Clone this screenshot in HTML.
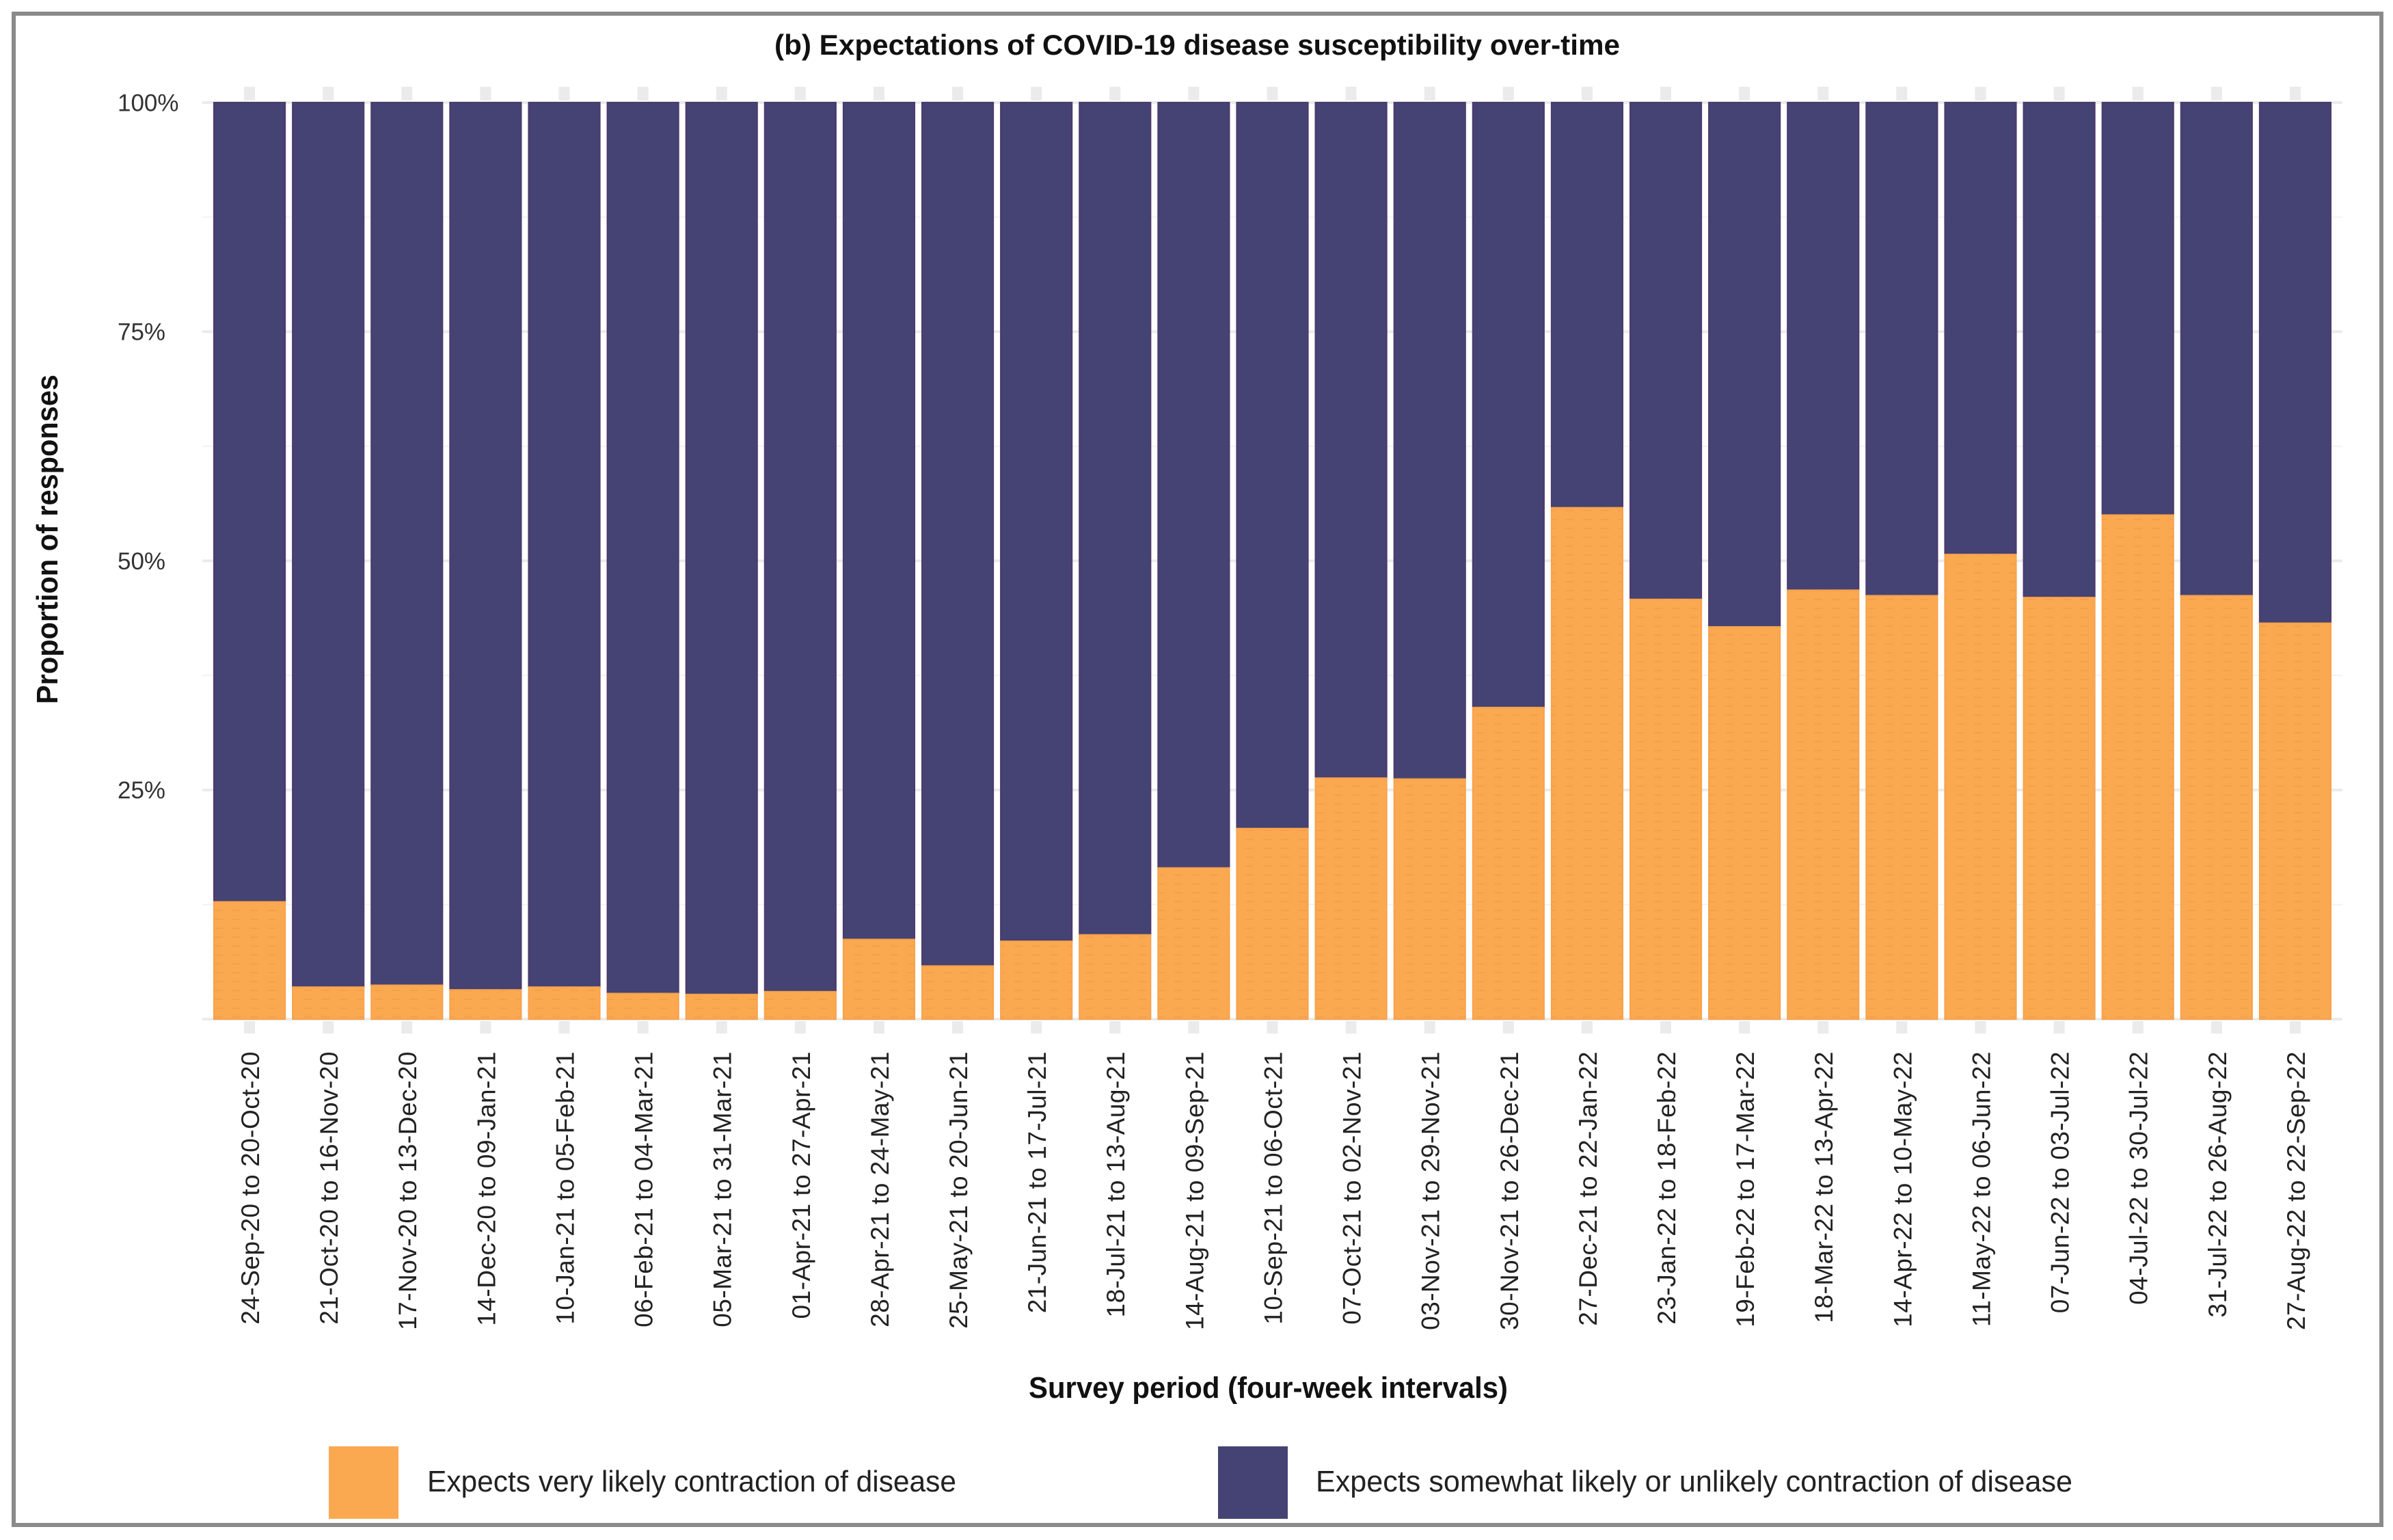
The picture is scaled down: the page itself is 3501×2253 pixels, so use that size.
<!DOCTYPE html>
<html>
<head>
<meta charset="utf-8">
<style>
  html,body{margin:0;padding:0;background:#fff;}
  svg{display:block;}
  text{font-family:"Liberation Sans Narrow","Liberation Sans",sans-serif;}
</style>
</head>
<body>
<svg id="chart" width="3501" height="2253" viewBox="0 0 3501 2253" xmlns="http://www.w3.org/2000/svg">
  <defs>
    <pattern id="tex" width="26" height="13" patternUnits="userSpaceOnUse">
      <rect width="26" height="13" fill="#fba951"/>
      <line x1="2" y1="6" x2="14" y2="6" stroke="#f2a04a" stroke-width="2"/>
    </pattern>
  </defs>
  <rect x="0" y="0" width="3501" height="2253" fill="#fff"/>
  <rect x="20" y="20" width="3464" height="2211" fill="none" stroke="#8a8a8a" stroke-width="6"/>
  <text x="1133" y="80" font-size="42" font-weight="bold" fill="#111" textLength="1237" lengthAdjust="spacingAndGlyphs">(b) Expectations of COVID-19 disease susceptibility over-time</text>
  <g id="grid"></g>
  <g id="ticks"></g>
  <g id="bars"></g>
  <g id="ylabels"></g>
  <g id="xlabels"></g>
  <text transform="translate(84,789) rotate(-90)" text-anchor="middle" font-size="44" font-weight="bold" fill="#111" textLength="482" lengthAdjust="spacingAndGlyphs" style="font-family:'Liberation Sans',sans-serif">Proportion of responses</text>
  <text x="1505" y="2045" font-size="44" font-weight="bold" fill="#111" textLength="701" lengthAdjust="spacingAndGlyphs">Survey period (four-week intervals)</text>
  <g>
    <rect x="481" y="2116" width="102" height="106" fill="#fba951"/>
    <text x="625" y="2182" font-size="44" fill="#222" textLength="774" lengthAdjust="spacingAndGlyphs">Expects very likely contraction of disease</text>
    <rect x="1782" y="2116" width="102" height="106" fill="#444373"/>
    <text x="1925" y="2182" font-size="44" fill="#222" textLength="1107" lengthAdjust="spacingAndGlyphs">Expects somewhat likely or unlikely contraction of disease</text>
  </g>
</svg>
<script>
const categories = ["24-Sep-20 to 20-Oct-20","21-Oct-20 to 16-Nov-20","17-Nov-20 to 13-Dec-20","14-Dec-20 to 09-Jan-21","10-Jan-21 to 05-Feb-21","06-Feb-21 to 04-Mar-21","05-Mar-21 to 31-Mar-21","01-Apr-21 to 27-Apr-21","28-Apr-21 to 24-May-21","25-May-21 to 20-Jun-21","21-Jun-21 to 17-Jul-21","18-Jul-21 to 13-Aug-21","14-Aug-21 to 09-Sep-21","10-Sep-21 to 06-Oct-21","07-Oct-21 to 02-Nov-21","03-Nov-21 to 29-Nov-21","30-Nov-21 to 26-Dec-21","27-Dec-21 to 22-Jan-22","23-Jan-22 to 18-Feb-22","19-Feb-22 to 17-Mar-22","18-Mar-22 to 13-Apr-22","14-Apr-22 to 10-May-22","11-May-22 to 06-Jun-22","07-Jun-22 to 03-Jul-22","04-Jul-22 to 30-Jul-22","31-Jul-22 to 26-Aug-22","27-Aug-22 to 22-Sep-22"];
const veryLikely = [12.8,3.5,3.7,3.2,3.5,2.8,2.7,3.0,8.7,5.8,8.5,9.2,16.5,20.8,26.3,26.2,34.0,55.8,45.8,42.8,46.8,46.2,50.7,46.0,55.0,46.2,43.2];
const yTicks = [0,25,50,75,100];
const yTickLabels = ["0%","25%","50%","75%","100%"];
const yMinor = [12.5,37.5,62.5,87.5];

const NS = "http://www.w3.org/2000/svg";
const plotLeft = 296, plotRight = 3427, yTop = 150, yBottom = 1491;
const n = categories.length;
const step = (plotRight - plotLeft) / (n - 1 + 1.2);
const barW = step * 0.905;
function xCenter(i){ return plotLeft + step * (0.6 + i); }
function yScale(v){ return yBottom - (v / 100) * (yBottom - yTop); }
function mk(tag, attrs, parent){
  const el = document.createElementNS(NS, tag);
  for (const k in attrs) el.setAttribute(k, attrs[k]);
  parent.appendChild(el);
  return el;
}
const grid = document.getElementById('grid');
yMinor.forEach(v => {
  const l = mk('line', {x1: plotLeft, x2: plotRight, y1: yScale(v), y2: yScale(v), stroke: '#f3f3f3', 'stroke-width': 2}, grid);
  
  
});
yTicks.forEach(v => {
  const l = mk('line', {x1: plotLeft, x2: plotRight, y1: yScale(v), y2: yScale(v), stroke: '#ebebeb', 'stroke-width': 4}, grid);
  
  
});
const ticks = document.getElementById('ticks');
const bars = document.getElementById('bars');
const xl = document.getElementById('xlabels');
categories.forEach((c, i) => {
  const cx = xCenter(i);
  const t1 = mk('rect', {x: cx - 8, y: yTop - 23, width: 16, height: 20, fill: '#ebebeb'}, ticks);
  
  
  const t2 = mk('rect', {x: cx - 8, y: yBottom + 3, width: 16, height: 18, fill: '#ebebeb'}, ticks);
  
  
  const v = veryLikely[i];
  const top = mk('rect', {x: cx - barW/2, y: yScale(100), width: barW, height: yScale(v) - yScale(100), fill: '#444373', stroke: '#4e3a6e', 'stroke-width': 2}, bars);
  
  
  const bot = mk('rect', {x: cx - barW/2, y: yScale(v), width: barW, height: yScale(0) - yScale(v), fill: 'url(#tex)', stroke: '#f7a24c', 'stroke-width': 2}, bars);
  
  
  const t = mk('text', {transform: 'translate(' + (cx + 1) + ',1538) rotate(-90)', 'text-anchor': 'end', dy: '0.35em', 'font-size': 37, 'letter-spacing': '0.5', fill: '#222', style: "font-family:'Liberation Sans',sans-serif"}, xl);
  t.textContent = c;
  
  
});
const yl = document.getElementById('ylabels');
yTicks.forEach((v, i) => {
  if (v === 0) return;
  const t = mk('text', {x: 172, y: yScale(v), dy: '0.35em', 'font-size': 35, fill: '#333', style: "font-family:'Liberation Sans',sans-serif"}, yl);
  t.textContent = yTickLabels[i];
  
  
});
</script>
</body>
</html>
